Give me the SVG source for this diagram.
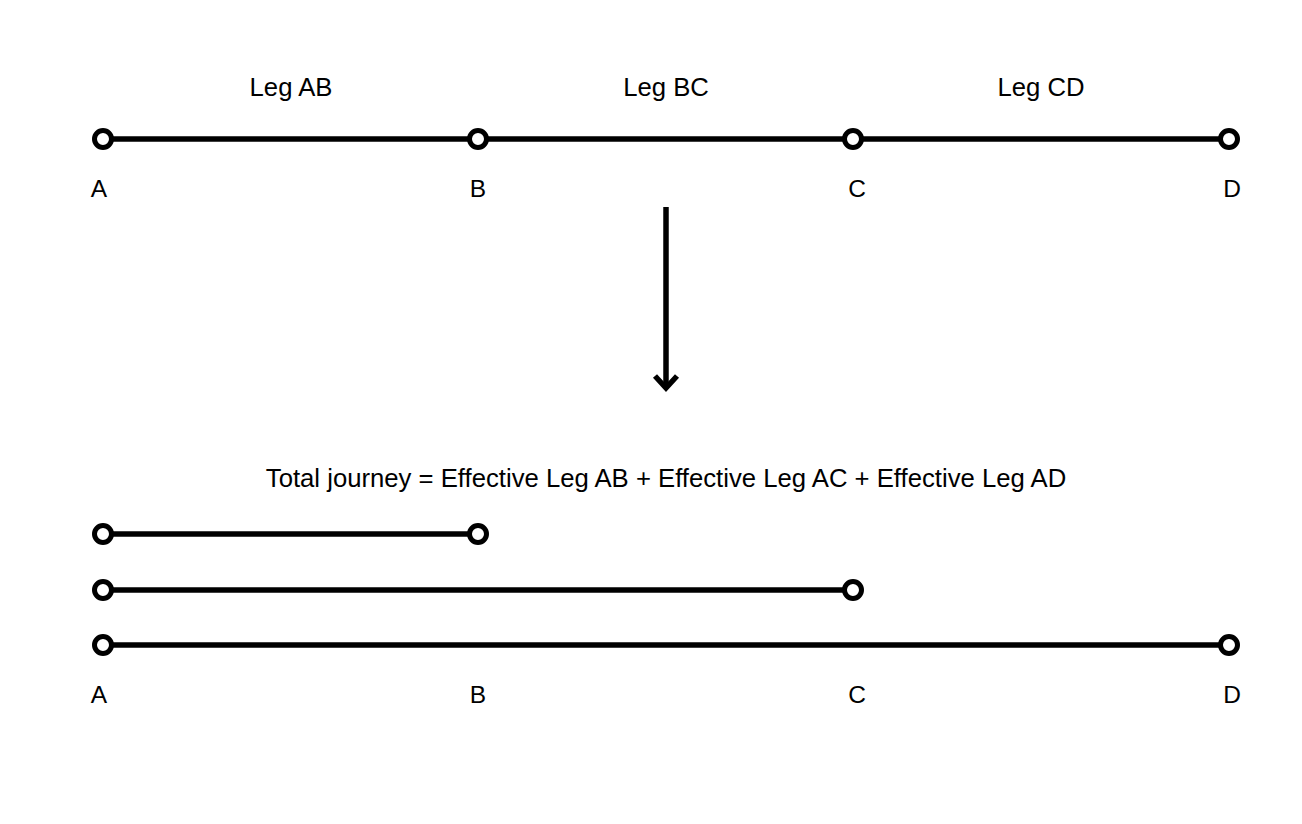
<svg xmlns="http://www.w3.org/2000/svg" width="1302" height="824" viewBox="0 0 1302 824">
<style>
.ln{stroke:#000;stroke-width:5.5;fill:none}
.pt{stroke:#000;stroke-width:5;fill:#fff}
text{font-family:"Liberation Sans",Arial,sans-serif;font-size:25.7px;fill:#000;text-anchor:middle}
.lt{font-size:24.5px}
</style>
<rect width="1302" height="824" fill="#fff"/>
<g id="connectors">
<line class="ln" x1="103" y1="139" x2="1229" y2="139"/>
<line class="ln" x1="666" y1="207" x2="666" y2="388"/>
<polyline class="ln" points="655,376 666,388 677,376"/>
<line class="ln" x1="103" y1="534" x2="478" y2="534"/>
<line class="ln" x1="103" y1="590" x2="853" y2="590"/>
<line class="ln" x1="103" y1="645" x2="1229" y2="645"/>
</g>
<g id="labels">
<text x="291" y="96">Leg AB</text>
<text x="666" y="96">Leg BC</text>
<text x="1041" y="96">Leg CD</text>
<text x="666" y="487">Total journey = Effective Leg AB + Effective Leg AC + Effective Leg AD</text>
</g>
<g id="top-nodes">
<g id="nA"><circle class="pt" cx="103" cy="139" r="8.5"/><text class="lt" x="99" y="197">A</text></g>
<g id="nB"><circle class="pt" cx="478" cy="139" r="8.5"/><text class="lt" x="478" y="197">B</text></g>
<g id="nC"><circle class="pt" cx="853" cy="139" r="8.5"/><text class="lt" x="857" y="197">C</text></g>
<g id="nD"><circle class="pt" cx="1229" cy="139" r="8.5"/><text class="lt" x="1232" y="197">D</text></g>
</g>
<g id="bottom-nodes">
<g id="b1"><circle class="pt" cx="103" cy="534" r="8.5"/><circle class="pt" cx="478" cy="534" r="8.5"/></g>
<g id="b2"><circle class="pt" cx="103" cy="590" r="8.5"/><circle class="pt" cx="853" cy="590" r="8.5"/></g>
<g id="b3"><circle class="pt" cx="103" cy="645" r="8.5"/><circle class="pt" cx="1229" cy="645" r="8.5"/></g>
<text class="lt" x="99" y="703">A</text>
<text class="lt" x="478" y="703">B</text>
<text class="lt" x="857" y="703">C</text>
<text class="lt" x="1232" y="703">D</text>
</g>
</svg>
